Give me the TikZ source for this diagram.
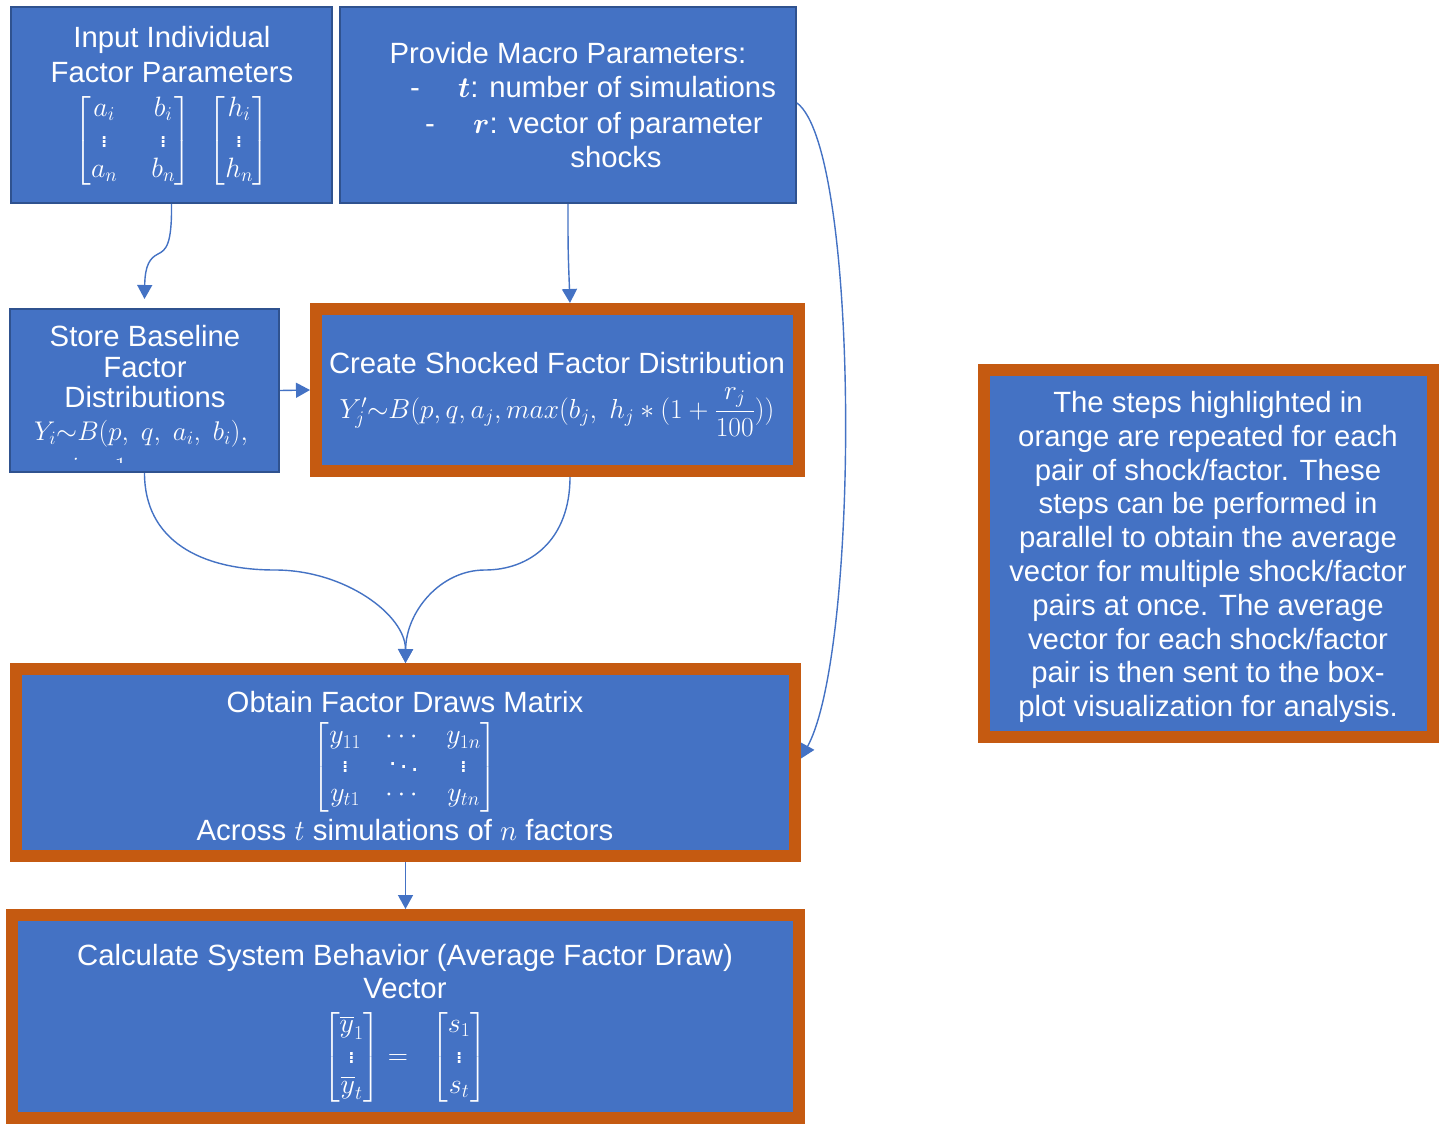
\RequirePackage{fix-cm}
\documentclass[tikz,border=0pt]{standalone}
\usepackage{amsmath}
\usepackage{bm}
\usepackage{fontspec}
\setmainfont{Liberation Sans}
\usetikzlibrary{arrows.meta}
\definecolor{boxblue}{HTML}{4472C4}
\definecolor{edgeblue}{HTML}{2F528F}
\definecolor{hiorange}{HTML}{C55A11}
\begin{document}
\begin{tikzpicture}[x=1pt,y=-1pt,
  plainbox/.style={draw=edgeblue,line width=2pt,fill=boxblue,inner sep=0pt},
  orangebox/.style={draw=hiorange,line width=12pt,fill=boxblue,inner sep=0pt},
  txt/.style={text=white,inner sep=0pt,font=\fontsize{29.3}{34}\selectfont},
  mtxt/.style={text=white,inner sep=0pt,font=\fontsize{28}{32}\selectfont},
  link/.style={draw=boxblue,line width=1.4pt,-{Triangle[width=15pt,length=14pt]}}]
\useasboundingbox (0,0) rectangle (1444,1124);
\fill[white] (0,0) rectangle (1444,1124);
% boxes
\node[plainbox,minimum width=321pt,minimum height=196pt] (input) at (171.5,105) {};
\node[plainbox,minimum width=456pt,minimum height=196pt] (provide) at (568,105) {};
\node[plainbox,minimum width=269pt,minimum height=163pt] (store) at (144.5,390.5) {};
\node[orangebox,minimum width=483pt,minimum height=162pt] (create) at (557.5,390) {};
\node[orangebox,minimum width=779pt,minimum height=187pt] (obtain) at (405.5,762.5) {};
\node[orangebox,minimum width=787pt,minimum height=203pt] (calc) at (405.5,1016.5) {};
\node[orangebox,minimum width=449pt,minimum height=367pt] (note) at (1208.5,553.5) {};
% input text
\node[txt,anchor=base] (in1) at (172,48) {Input Individual};
\node[txt,anchor=base] (in2) at (172,82) {Factor Parameters};
\node[mtxt] (inm) at (172,141) {$\renewcommand{\arraystretch}{0.95}\setlength{\arraycolsep}{17pt}\begin{bmatrix} a_i & b_i\\ \vdots & \vdots\\ a_n & b_n\end{bmatrix}\;\,\setlength{\arraycolsep}{8pt}\begin{bmatrix} h_i\\ \vdots\\ h_n\end{bmatrix}$};
% provide text
\node[txt,anchor=base] (pr1) at (568,64) {Provide Macro Parameters:};
\node[txt,anchor=base] (prd1) at (415,98) {-};
\node[txt,anchor=base west] (pr2) at (458,98) {$\bm{t}$: number of simulations};
\node[txt,anchor=base] (prd2) at (430,133) {-};
\node[txt,anchor=base west] (pr3) at (473,133) {$\bm{r}$: vector of parameter};
\node[txt,anchor=base] (pr4) at (616,167) {shocks};
% store text
\node[txt,anchor=base] (st1) at (145,346) {Store Baseline};
\node[txt,anchor=base] (st2) at (145,377) {Factor};
\node[txt,anchor=base] (st3) at (145,407) {Distributions};
\node[mtxt,anchor=base,font=\fontsize{27}{32}\selectfont] (st4) at (141,440) {$Y_i{\sim}B(p,\ q,\ a_i,\ b_i),$};
\begin{scope}
\clip (11,310) rectangle (278,462);
\node[mtxt,anchor=base] (st5) at (145,476) {$i=1,\ \dots,\ n$};
\end{scope}
% create text
\node[txt,anchor=base] (cr1) at (557,373) {Create Shocked Factor Distribution};
\node[mtxt,anchor=base,font=\fontsize{27.5}{32}\selectfont] (cr2) at (557,418) {$Y_j'{\sim}B(p,q,a_j,max(b_j,\ h_j*(1+\dfrac{r_j}{100}))$};
% obtain text
\node[txt,anchor=base] (ob1) at (405,712) {Obtain Factor Draws Matrix};
\node[mtxt] (obm) at (405,767) {$\renewcommand{\arraystretch}{0.9}\setlength{\arraycolsep}{12pt}\begin{bmatrix} y_{11} & \cdots & y_{1n}\\ \vdots & \ddots & \vdots\\ y_{t1} & \cdots & y_{tn}\end{bmatrix}$};
\node[txt,anchor=base] (ob2) at (405,840) {Across $t$ simulations of $n$ factors};
% calc text
\node[txt,anchor=base] (ca1) at (405,965) {Calculate System Behavior (Average Factor Draw)};
\node[txt,anchor=base] (ca2) at (405,998) {Vector};
\node[mtxt] (cam) at (405,1057) {$\renewcommand{\arraystretch}{0.95}\begin{bmatrix}\overline{y}_1\\ \vdots\\ \overline{y}_t\end{bmatrix}=\;\;\begin{bmatrix} s_1\\ \vdots\\ s_t\end{bmatrix}$};
% note text
\node[txt,align=center,font=\fontsize{29.3}{33.8}\selectfont] (notetxt) at (1208,557) {The steps highlighted in\\orange are repeated for each\\pair of shock/factor. These\\steps can be performed in\\parallel to obtain the average\\vector for multiple shock/factor\\pairs at once. The average\\vector for each shock/factor\\pair is then sent to the box-\\plot visualization for analysis.};
% connectors
\draw[link] (input.south) .. controls (172,245) and (166,250) .. (158,254) .. controls (150,258) and (145,265) .. ([yshift=9pt]store.north);
\draw[link] (provide.south) .. controls (568,250) .. ([xshift=12.5pt]create.north);
\draw[link] (store.east) -- (create.west);
\draw[link] (store.south) .. controls (144.5,540) and (200,570) .. (275,570) .. controls (345,570) and (405.5,615) .. (obtain.north);
\draw[link] ([xshift=12.5pt]create.south) .. controls (570,540) and (530,570) .. (485,570) .. controls (440,570) and (406,612) .. (obtain.north);
\draw[link] ([yshift=2pt]provide.east) .. controls (860,150) and (860,650) .. ([yshift=4pt]obtain.east);
\draw[link] (obtain.south) -- (calc.north);
\end{tikzpicture}
\end{document}
